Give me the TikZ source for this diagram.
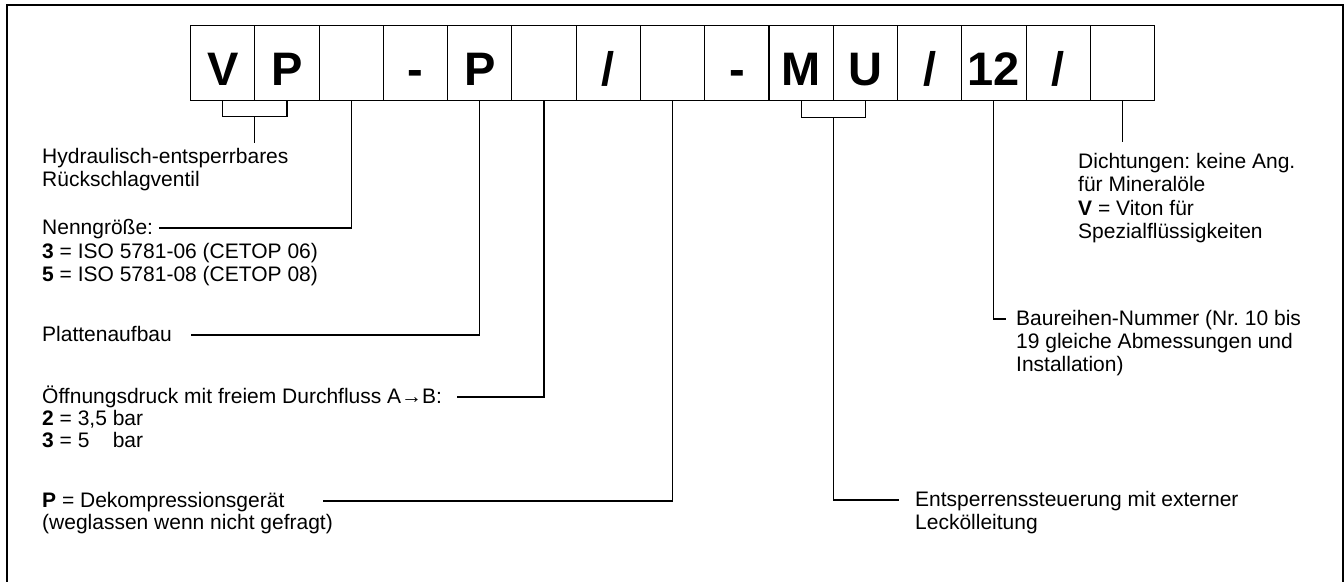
\documentclass[tikz,border=0pt]{standalone}
\usepackage{fontspec}
\setmainfont{Liberation Sans}
\frenchspacing
\usetikzlibrary{calc}
\tikzset{
  cell/.style={draw, line width=1.1pt, minimum width=64.27pt, minimum height=75pt, inner sep=0pt, anchor=north west,
    text height=45pt, text depth=0pt, font=\fontsize{47}{47}\selectfont\bfseries},
  lbl/.style={anchor=base west, inner sep=0pt, text height=15pt, text depth=3pt, font=\fontsize{21}{23}\selectfont},
  lead/.style={line width=1.1pt}
}
\begin{document}
\begin{tikzpicture}[x=1pt,y=-1pt]
                \useasboundingbox (0,0) rectangle (1344,581);
                \draw[lead] (7,5) rectangle (1343,600);
                \foreach \t [count=\i] in {V,P,{},-,P,{},/,{},-,M,U,/,12,/,{}}
                    \node[cell] (b\i) at ({190+64.27*(\i-1)},25) {\t};
                \node[lbl] (hyd1) at (42,163) {Hydraulisch-entsperrbares};
                \node[lbl] (hyd2) at (42,186) {Rückschlagventil};
                \node[lbl] (nenn) at (42,234) {Nenngröße:};
                \node[lbl] (nenn3) at (42,258) {\textbf{3} = ISO 5781-06 (CETOP 06)};
                \node[lbl] (nenn5) at (42,281) {\textbf{5} = ISO 5781-08 (CETOP 08)};
                \node[lbl] (platte) at (42,341) {Plattenaufbau};
                \node[lbl] (oeff) at (42,403) {Öffnungsdruck mit freiem Durchfluss A→B:};
                \node[lbl] (oeff2) at (42,425) {\textbf{2} = 3,5 bar};
                \node[lbl] (oeff3) at (42,447) {\textbf{3} = 5\hphantom{,5} bar};
                \node[lbl] (deko) at (42,507) {\textbf{P} = Dekompressionsgerät};
                \node[lbl] (deko2) at (42,529) {(weglassen wenn nicht gefragt)};
                \node[lbl] (entsp) at (915,506) {Entsperrenssteuerung mit externer};
                \node[lbl] (entsp2) at (915,529) {Leckölleitung};
                \node[lbl] (baur) at (1016,325) {Baureihen-Nummer (Nr. 10 bis};
                \node[lbl] (baur2) at (1016,348) {19 gleiche Abmessungen und};
                \node[lbl] (baur3) at (1016,371) {Installation)};
                \node[lbl] (dicht) at (1078,168) {Dichtungen: keine Ang.};
                \node[lbl] (dicht2) at (1078,191) {für Mineralöle};
                \node[lbl] (dicht3) at (1078,215) {\textbf{V} = Viton für};
                \node[lbl] (dicht4) at (1078,238) {Spezialflüssigkeiten};
                \draw[lead] (b1.south) -- ++(0,15) -| (b2.south);
                \coordinate (vp) at ($(b1.south)!.5!(b2.south)+(0,15)$);
                \draw[lead, shorten >=5pt] (vp) -- (vp |- hyd1.north);
                \draw[lead] (b3.south) |- ([xshift=6pt]nenn.east);
                \draw[lead] (b5.south) |- ([xshift=19pt]platte.east);
                \draw[lead] (b6.south) |- ([xshift=15pt]oeff.east);
                \draw[lead] (b8.south) |- ([xshift=38pt]deko.east);
                \draw[lead] (b10.south) -- ++(0,16) -| (b11.south);
                \coordinate (mu) at ($(b10.south)!.5!(b11.south)+(0,16)$);
                \draw[lead] (mu) |- ([xshift=-16pt]entsp.west);
                \draw[lead] (b13.south) |- ([xshift=-10pt]baur.west);
                \draw[lead, shorten >=11pt] (b15.south) -- (b15.south |- dicht.north);
            \end{tikzpicture}
\end{document}
